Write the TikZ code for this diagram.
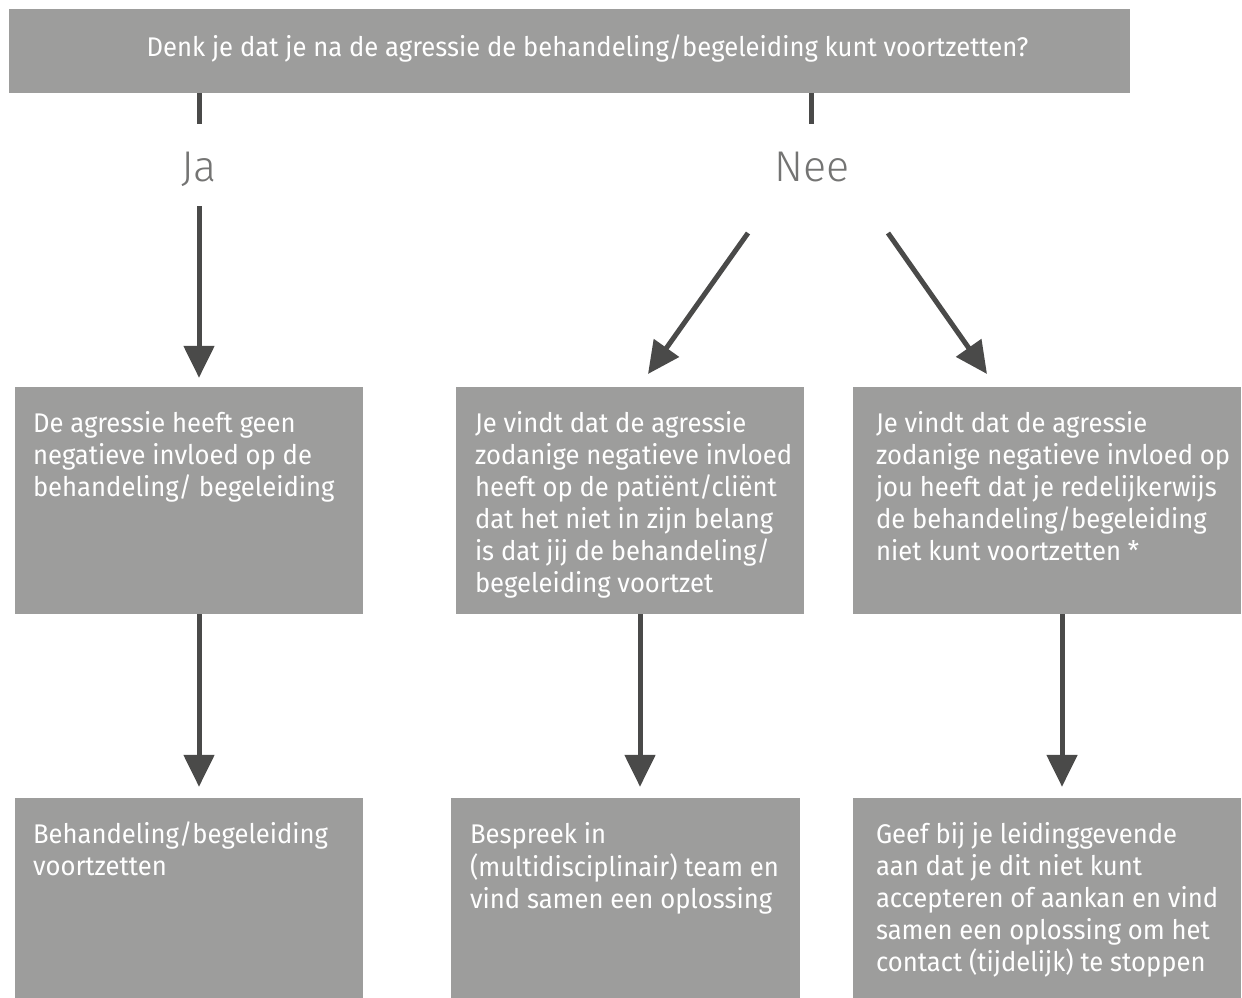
\documentclass[tikz,border=0pt]{standalone}
\usepackage{fontspec}
\setmainfont{Fira Sans}[FakeStretch=0.95]
\newfontfamily\lblfont{Fira Sans Light}[FakeStretch=1.0]
\usetikzlibrary{arrows.meta}
\definecolor{boxgray}{HTML}{9D9D9C}
\definecolor{arrgray}{HTML}{4A4A49}
\definecolor{lblgray}{HTML}{747473}
\tikzset{
  box/.style={fill=boxgray, draw=none, inner sep=0pt},
  boxtxt/.style={text=white, inner sep=0pt, anchor=north west, align=left,
                 font=\fontsize{27}{32}\selectfont},
  lbl/.style={text=lblgray, inner sep=0pt, anchor=base, font=\lblfont\fontsize{43}{48}\selectfont},
  conn/.style={draw=arrgray, line width=5pt},
  arr/.style={conn, -{Triangle[length=32pt,width=30pt]}},
}
\begin{document}
\begin{tikzpicture}[x=1pt,y=-1pt]
\useasboundingbox (0,0) rectangle (1242,998);
% top question
\node[box, minimum width=1121pt, minimum height=84pt] (top) at (569.5,51) {};
\node[text=white, inner sep=0pt, anchor=base, font=\fontsize{27}{32}\selectfont] (toptxt) at (587.5,57)
  {Denk je dat je na de agressie de behandeling/begeleiding kunt voortzetten?};
% labels
\node[lbl] (ja) at (199,181) {Ja};
\node[lbl] (nee) at (812,181) {Nee};
\coordinate (jaup) at (199,124);
\coordinate (jadown) at (199,206);
\coordinate (neeup) at (811,124);
\coordinate (neel) at (748,233);
\coordinate (neer) at (888,233);
\coordinate (tipl) at (648,374);
\coordinate (tipr) at (987,374);
% middle boxes
\node[box, minimum width=348pt, minimum height=227pt] (b1) at (189,500.5) {};
\node[box, minimum width=348pt, minimum height=227pt] (b2) at (630,500.5) {};
\node[box, minimum width=388pt, minimum height=227pt] (b3) at (1047,500.5) {};
% bottom boxes
\node[box, minimum width=348pt, minimum height=200pt] (b4) at (189,898) {};
\node[box, minimum width=349pt, minimum height=200pt] (b5) at (625.5,898) {};
\node[box, minimum width=388pt, minimum height=200pt] (b6) at (1047,898) {};
% texts
\node[boxtxt] (t1) at ([xshift=18pt,yshift=-22.6pt]b1.north west)
  {\strut De agressie heeft geen\\negatieve invloed op de\\behandeling/ begeleiding};
\node[boxtxt] (t2) at ([xshift=19pt,yshift=-22.6pt]b2.north west)
  {\strut Je vindt dat de agressie\\zodanige negatieve invloed\\heeft op de patiënt/cliënt\\dat het niet in zijn belang\\is dat jij de behandeling/\\begeleiding voortzet};
\node[boxtxt] (t3) at ([xshift=23pt,yshift=-22.6pt]b3.north west)
  {\strut Je vindt dat de agressie\\zodanige negatieve invloed op\\jou heeft dat je redelijkerwijs\\de behandeling/begeleiding\\niet kunt voortzetten *};
\node[boxtxt] (t4) at ([xshift=18pt,yshift=-22.6pt]b4.north west)
  {\strut Behandeling/begeleiding\\voortzetten};
\node[boxtxt] (t5) at ([xshift=19pt,yshift=-22.6pt]b5.north west)
  {\strut Bespreek in\\(multidisciplinair) team en\\vind samen een oplossing};
\node[boxtxt] (t6) at ([xshift=23pt,yshift=-22.6pt]b6.north west)
  {\strut Geef bij je leidinggevende\\aan dat je dit niet kunt\\accepteren of aankan en vind\\samen een oplossing om het\\contact (tijdelijk) te stoppen};
% connectors
\draw[conn] (top.south -| jaup) -- (jaup);
\draw[arr, shorten >=9pt] (jadown) -- (b1.north -| jadown);
\draw[conn] (top.south -| neeup) -- (neeup);
\draw[arr] (neel) -- (tipl);
\draw[arr] (neer) -- (tipr);
\draw[arr, shorten >=11pt] (b1.south -| jadown) -- (b4.north -| jadown);
\draw[arr, shorten >=11pt] ([xshift=10pt]b2.south) -- ([xshift=10pt]b2.south |- b5.north);
\draw[arr, shorten >=11pt] ([xshift=15pt]b3.south) -- ([xshift=15pt]b3.south |- b6.north);
\end{tikzpicture}
\end{document}
